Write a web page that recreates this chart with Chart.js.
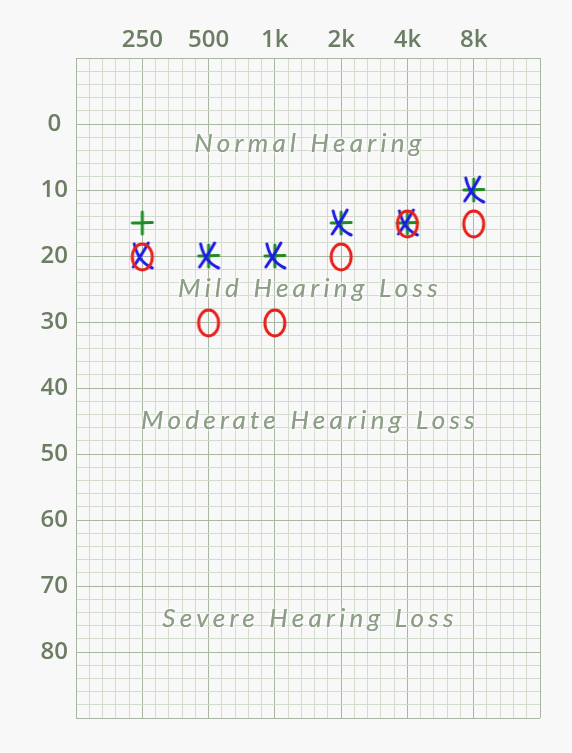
<!DOCTYPE html>
<html>
<head>
<meta charset="utf-8">
<script src="https://cdn.jsdelivr.net/npm/chart.js@4"></script>
<style>
  html, body { margin: 0; padding: 0; background: #f8f8f8; }
  canvas { display: block; }
</style>
</head>
<body>
<canvas id="audiogram" width="572" height="753"></canvas>
<script>
// frequencies along the top, hearing level in dB down the side
const frequencies = ['250', '500', '1k', '2k', '4k', '8k'];
const greenPlus = [15, 20, 20, 15, 15, 10];
const blueX = [20, 20, 20, 15, 15, 10];
const redO = [20, 30, 30, 20, 15, 15];
const yLabels = [0, 10, 20, 30, 40, 50, 60, 70, 80];

const zoneNames = ['Normal Hearing', 'Mild Hearing Loss', 'Moderate Hearing Loss', 'Severe Hearing Loss'];
const zoneLevels = [3, 25, 45, 75];

const minorGrid = '#d3dbcd';
const majorGrid = '#a9b6a2';
const tickColor = '#6b7d63';

function makeMarker(draw) {
  const c = document.createElement('canvas');
  c.width = 32;
  c.height = 34;
  const g = c.getContext('2d');
  g.translate(16, 17);
  g.lineCap = 'round';
  g.lineJoin = 'round';
  draw(g);
  return c;
}

const plusMarker = makeMarker(g => {
  g.strokeStyle = '#1e8c24';
  g.lineWidth = 3;
  g.beginPath();
  g.moveTo(-10, 0);
  g.lineTo(10, -0.5);
  g.moveTo(0, -11);
  g.lineTo(0, 11);
  g.stroke();
});

const xMarker = makeMarker(g => {
  g.strokeStyle = '#1c1ce4';
  g.lineWidth = 3;
  g.beginPath();
  g.moveTo(-8, -12);
  g.quadraticCurveTo(-4, 6, 10, 12);
  g.moveTo(6, -13);
  g.quadraticCurveTo(0, -2, -9, 11);
  g.stroke();
});

const oMarker = makeMarker(g => {
  g.strokeStyle = '#e8201c';
  g.lineWidth = 3;
  g.beginPath();
  g.ellipse(0, 1, 10, 13, 0, 0, Math.PI * 2);
  g.stroke();
});

const toPoints = arr => arr.map((v, i) => ({ x: i + 1, y: v }));

const isWhole = v => Math.abs(v - Math.round(v)) < 1e-6;

const zoneText = {
  id: 'zoneText',
  beforeDatasetsDraw(chart) {
    const { ctx, scales } = chart;
    ctx.save();
    ctx.font = 'italic 26px Lato';
    ctx.letterSpacing = '4.3px';
    ctx.textAlign = 'center';
    ctx.textBaseline = 'middle';
    ctx.fillStyle = '#8d9e86';
    ctx.shadowColor = '#ffffff';
    ctx.shadowBlur = 4;
    const cx = (scales.x.left + scales.x.right) / 2 + 2;
    zoneNames.forEach((name, i) => {
      const y = scales.y.getPixelForValue(zoneLevels[i]);
      ctx.fillText(name, cx, y);
      ctx.fillText(name, cx, y);
    });
    ctx.restore();
  }
};

const tickFont = { family: 'Open Sans', size: 24, weight: '600' };

const ctx = document.getElementById('audiogram');
new Chart(ctx, {
  type: 'scatter',
  data: {
    datasets: [
      { label: 'O', data: toPoints(redO), pointStyle: oMarker, order: 1 },
      { label: 'X', data: toPoints(blueX), pointStyle: xMarker, order: 2 },
      { label: '+', data: toPoints(greenPlus), pointStyle: plusMarker, order: 3 }
    ]
  },
  options: {
    responsive: false,
    animation: false,
    layout: {
      padding: { left: 30, right: 32, top: 4, bottom: 35 }
    },
    plugins: {
      legend: { display: false },
      tooltip: { enabled: false }
    },
    scales: {
      x: {
        type: 'linear',
        position: 'top',
        min: 0,
        max: 7,
        afterFit: scale => { scale.height = 54; },
        border: { color: majorGrid },
        grid: {
          drawTicks: false,
          color: c => isWhole(c.tick.value) ? majorGrid : minorGrid
        },
        ticks: {
          stepSize: 0.2,
          autoSkip: false,
          maxRotation: 0,
          padding: 3,
          color: tickColor,
          font: tickFont,
          callback: v => {
            if (isWhole(v)) {
              const i = Math.round(v);
              if (i >= 1 && i <= frequencies.length) return frequencies[i - 1];
            }
            return '';
          }
        }
      },
      y: {
        reverse: true,
        min: -10,
        max: 90,
        afterFit: scale => { scale.width = 46; },
        border: { color: majorGrid },
        grid: {
          drawTicks: false,
          color: c => isWhole(c.tick.value / 10) ? majorGrid : minorGrid
        },
        ticks: {
          stepSize: 2,
          autoSkip: false,
          crossAlign: 'center',
          padding: 8,
          color: tickColor,
          font: tickFont,
          callback: v => yLabels.includes(Math.round(v)) && isWhole(v) ? String(Math.round(v)) : ''
        }
      }
    }
  },
  plugins: [zoneText]
});
</script>
</body>
</html>
